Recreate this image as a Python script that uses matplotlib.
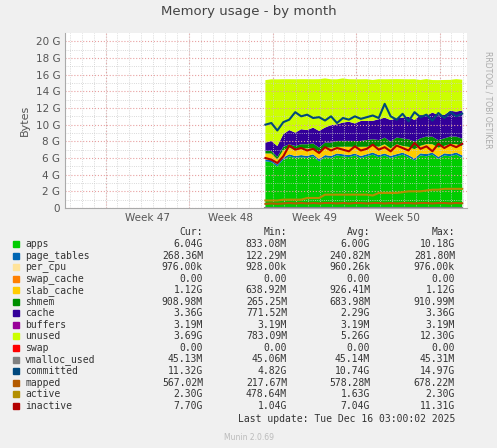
import matplotlib.pyplot as plt
import numpy as np

# half-day samples, day 0 = start of data
days = np.arange(34) * 0.5
apps = [5.6, 5.5, 5.0, 5.8, 6.2, 6.0, 6.1, 6.0, 6.2, 5.6, 6.1, 6.0, 6.3, 6.2, 6.1, 6.3, 6.0,
        6.2, 6.4, 6.1, 6.3, 6.0, 6.2, 6.4, 6.1, 5.7, 6.3, 6.2, 6.4, 5.9, 6.3, 6.2, 6.4, 6.04]
page_tables = [0.24, 0.24, 0.23, 0.25, 0.25, 0.24, 0.25, 0.25, 0.24, 0.25, 0.25, 0.24, 0.24, 0.25, 0.25, 0.24, 0.24,
               0.25, 0.26, 0.25, 0.24, 0.25, 0.26, 0.25, 0.24, 0.25, 0.26, 0.27, 0.25, 0.24, 0.26, 0.27, 0.26, 0.27]
per_cpu = [0.001] * 34
swap_cache = [0.0] * 34
slab = [0.7, 0.8, 0.6, 0.9, 0.8, 0.7, 0.8, 0.9, 0.7, 0.8, 0.9, 1.0, 0.8, 0.9, 1.0, 0.8, 1.1,
        0.9, 0.8, 1.0, 1.1, 0.9, 1.2, 0.8, 1.0, 1.1, 0.9, 1.2, 1.0, 1.1, 0.9, 1.2, 1.0, 1.12]
shmem = [0.3, 0.3, 0.3, 0.4, 0.4, 0.5, 0.5, 0.5, 0.6, 0.6, 0.6, 0.6, 0.7, 0.7, 0.7, 0.7, 0.7,
         0.8, 0.8, 0.8, 0.8, 0.8, 0.8, 0.9, 0.9, 0.9, 0.9, 0.9, 0.9, 0.9, 0.9, 0.9, 0.9, 0.91]
cache = [1.0, 1.2, 1.3, 1.5, 1.7, 1.6, 1.8, 1.7, 1.9, 2.0, 1.8, 2.1, 2.0, 2.2, 2.3, 2.1, 2.4,
         2.3, 2.2, 2.5, 2.4, 2.6, 2.3, 2.5, 2.7, 2.6, 2.8, 2.5, 2.9, 3.0, 2.8, 3.1, 3.0, 3.36]
buffers = [0.003] * 34
unused = [7.5, 7.4, 8.0, 6.6, 6.1, 6.4, 6.0, 6.1, 5.8, 6.2, 5.9, 5.5, 5.4, 5.3, 5.1, 5.3, 5.0,
          5.0, 4.9, 4.8, 4.6, 4.9, 4.7, 4.6, 4.5, 4.9, 4.2, 4.4, 3.9, 4.2, 4.2, 3.7, 3.9, 3.69]
swap = [0.0] * 34
vmalloc = [0.045] * 34
committed = [10.0, 10.2, 9.3, 10.3, 10.6, 11.5, 11.0, 11.2, 10.8, 10.9, 10.5, 11.0, 10.2, 10.8, 10.6, 11.0, 10.7,
             10.9, 11.1, 10.8, 12.5, 11.0, 10.6, 11.3, 10.4, 11.5, 10.9, 11.2, 10.5, 11.4, 10.8, 11.5, 11.0, 11.32]
mapped = [0.5, 0.55, 0.5, 0.55, 0.6, 0.55, 0.6, 0.55, 0.6, 0.55, 0.6, 0.6, 0.55, 0.6, 0.55, 0.6, 0.6,
          0.55, 0.6, 0.6, 0.55, 0.6, 0.55, 0.6, 0.6, 0.55, 0.6, 0.6, 0.55, 0.6, 0.6, 0.55, 0.6, 0.57]
active = [0.9, 0.9, 0.9, 1.0, 1.0, 1.0, 1.0, 1.2, 1.2, 1.2, 1.6, 1.6, 1.6, 1.6, 1.6, 1.6, 1.6,
          1.6, 1.5, 1.8, 1.8, 1.8, 1.8, 1.9, 2.0, 2.0, 2.0, 2.1, 2.2, 2.2, 2.3, 2.3, 2.3, 2.30]
inactive = [6.0, 5.8, 5.4, 6.2, 7.5, 7.0, 7.2, 6.9, 7.1, 6.6, 7.3, 6.9, 7.2, 7.0, 6.8, 7.4, 6.9,
            7.1, 7.6, 7.0, 7.3, 6.8, 7.5, 7.2, 6.9, 7.8, 7.1, 7.4, 6.8, 7.7, 7.2, 7.6, 7.3, 7.70]

stack_names = ['apps', 'page_tables', 'per_cpu', 'swap_cache', 'slab_cache', 'shmem', 'cache', 'buffers', 'unused', 'swap']
stack_vals = [apps, page_tables, per_cpu, swap_cache, slab, shmem, cache, buffers, unused, swap]
stack_cols = ['#00CC00', '#0066B3', '#FFE39A', '#FF8000', '#FFCC00', '#008F00', '#330099', '#990099', '#CCFF00', '#FF0000']
line_names = ['vmalloc_used', 'committed', 'mapped', 'active', 'inactive']
line_vals = [vmalloc, committed, mapped, active, inactive]
line_cols = ['#808080', '#00487D', '#B35A00', '#B38F00', '#B30000']

cur = ['6.04G', '268.36M', '976.00k', '0.00', '1.12G', '908.98M', '3.36G', '3.19M', '3.69G', '0.00',
       '45.13M', '11.32G', '567.02M', '2.30G', '7.70G']
mins = ['833.08M', '122.29M', '928.00k', '0.00', '638.92M', '265.25M', '771.52M', '3.19M', '783.09M', '0.00',
        '45.06M', '4.82G', '217.67M', '478.64M', '1.04G']
avgs = ['6.00G', '240.82M', '960.26k', '0.00', '926.41M', '683.98M', '2.29G', '3.19M', '5.26G', '0.00',
        '45.14M', '10.74G', '578.28M', '1.63G', '7.04G']
maxs = ['10.18G', '281.80M', '976.00k', '0.00', '1.12G', '910.99M', '3.36G', '3.19M', '12.30G', '0.00',
        '45.31M', '14.97G', '678.22M', '2.30G', '11.31G']

week_labels = ['Week 47', 'Week 48', 'Week 49', 'Week 50']
week_pos = [-9.9, -2.9, 4.1, 11.1]
week_edges = [-13.4, -6.4, 0.6, 7.6, 14.6]

fig = plt.figure(figsize=(4.97, 4.48), dpi=100, facecolor='#F0F0F0')
ax = fig.add_axes([65/497, 1-208/448, 402/497, 175/448])
ax.set_facecolor('white')
ax.stackplot(days, *stack_vals, colors=stack_cols, linewidth=0)
for v, c in zip(line_vals, line_cols):
    ax.plot(days, v, color=c, lw=1.5)

ax.set_xlim(-16.8, 16.9)
ax.set_ylim(0, 21)
ax.set_yticks(range(0, 21, 2))
ax.set_yticklabels(['0'] + ['%d G' % v for v in range(2, 21, 2)], fontsize=7.5, color='#555555')
ax.set_yticks(np.arange(0, 21, 1), minor=True)
ax.set_xticks(week_pos)
ax.set_xticklabels(week_labels, fontsize=7.5, color='#555555')
ax.tick_params(length=0, which='both')
ax.set_xticks(np.arange(-16.4, 17, 1), minor=True)
ax.grid(True, which='minor', color='#CCCCCC', ls=':', lw=0.6)
ax.grid(True, axis='y', which='major', color='#E8A0A0', ls=':', lw=0.8)
for e in week_edges:
    ax.axvline(e, color='#E8A0A0', ls=':', lw=0.8, zorder=0.5)
for s in ['top', 'right']:
    ax.spines[s].set_visible(False)
ax.spines['left'].set_color('#AAAAAA')
ax.spines['bottom'].set_color('#AAAAAA')
ax.set_ylabel('Bytes', fontsize=8, color='#555555')

fig.text(0.5, 1-12/448, 'Memory usage - by month', ha='center', va='center', fontsize=9.5, color='#444444')
fig.text(488/497, 1-100/448, 'RRDTOOL / TOBI OETIKER', rotation=270, ha='center', va='center', fontsize=5.5, color='#AAAAAA')

fs = 7
def px(y):
    return 1 - y/448
for x, t in zip([203, 287, 370, 455], ['Cur:', 'Min:', 'Avg:', 'Max:']):
    fig.text(x/497, px(232), t, ha='right', va='center', fontsize=fs, family='DejaVu Sans Mono', color='#333333')
names = stack_names + line_names
cols = stack_cols + line_cols
for i, (n, c) in enumerate(zip(names, cols)):
    y = 244 + i * 11.55
    fig.patches.append(plt.Rectangle((13/497, px(y) - 3/448), 6/497, 6/448, transform=fig.transFigure, color=c))
    fig.text(25/497, px(y), n, ha='left', va='center', fontsize=fs, family='DejaVu Sans Mono', color='#333333')
    for x, arr in zip([203, 287, 370, 455], [cur, mins, avgs, maxs]):
        fig.text(x/497, px(y), arr[i], ha='right', va='center', fontsize=fs, family='DejaVu Sans Mono', color='#333333')
fig.text(455/497, px(419), 'Last update: Tue Dec 16 03:00:02 2025', ha='right', va='center', fontsize=fs,
         family='DejaVu Sans Mono', color='#333333')
fig.text(0.5, px(437), 'Munin 2.0.69', ha='center', va='center', fontsize=5.5, color='#BBBBBB')

fig.savefig('out.png', dpi=100, facecolor=fig.get_facecolor())
